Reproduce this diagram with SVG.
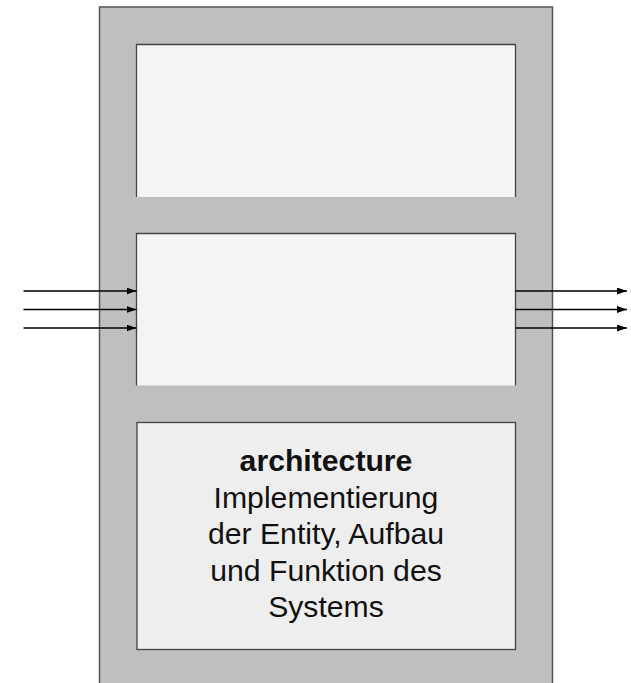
<svg xmlns="http://www.w3.org/2000/svg" width="631" height="683" viewBox="0 0 631 683">
  <style>
    .frame { fill: #bfbfbf; stroke: #555555; stroke-width: 1.5; }
    .panel { fill: #f4f4f4; stroke: none; }
    .panel-edge { fill: none; stroke: #444444; stroke-width: 1.3; }
    .arch { fill: #eeeeee; stroke: #444444; stroke-width: 1.3; }
    .wire { stroke: #000000; stroke-width: 1.3; fill: none; marker-end: url(#arrow); }
    .label { font-family: "Liberation Sans", Arial, sans-serif; font-size: 30.2px; fill: #111111; text-anchor: middle; }
    .bold { font-weight: bold; }
  </style>
  <defs>
    <marker id="arrow" viewBox="0 0 10 7" refX="10" refY="3.5" markerWidth="10" markerHeight="7" markerUnits="userSpaceOnUse" orient="auto">
      <path d="M0,0 L10,3.5 L0,7 Z" fill="#000000"/>
    </marker>
  </defs>

  <rect width="631" height="683" fill="#ffffff"/>

  <!-- outer design unit -->
  <g id="design">
    <rect class="frame" x="99.5" y="7" width="453" height="690"/>
  </g>

  <!-- upper panel -->
  <g id="panel-top">
    <rect class="panel" x="136.5" y="44.5" width="379" height="152.5"/>
    <path class="panel-edge" d="M136.5,197 V44.5 H515.5 V197"/>
  </g>

  <!-- middle panel (entity ports) -->
  <g id="panel-entity">
    <rect class="panel" x="136.5" y="233.5" width="379" height="152"/>
    <path class="panel-edge" d="M136.5,385.5 V233.5 H515.5 V385.5"/>
  </g>

  <!-- architecture panel -->
  <g id="panel-architecture">
    <rect class="arch" x="137" y="422.5" width="378.5" height="227"/>
    <text class="label bold" x="326" y="471">architecture</text>
    <text class="label" x="326" y="507.5">Implementierung</text>
    <text class="label" x="326" y="544">der Entity, Aufbau</text>
    <text class="label" x="326" y="580.5">und Funktion des</text>
    <text class="label" x="326" y="617">Systems</text>
  </g>

  <!-- port connectors -->
  <g id="connectors">
    <line class="wire" x1="23.5" y1="291" x2="136.5" y2="291"/>
    <line class="wire" x1="23.5" y1="309.5" x2="136.5" y2="309.5"/>
    <line class="wire" x1="23.5" y1="328" x2="136.5" y2="328"/>
    <line class="wire" x1="515.5" y1="291" x2="627" y2="291"/>
    <line class="wire" x1="515.5" y1="309.5" x2="627" y2="309.5"/>
    <line class="wire" x1="515.5" y1="328" x2="627" y2="328"/>
  </g>
</svg>
